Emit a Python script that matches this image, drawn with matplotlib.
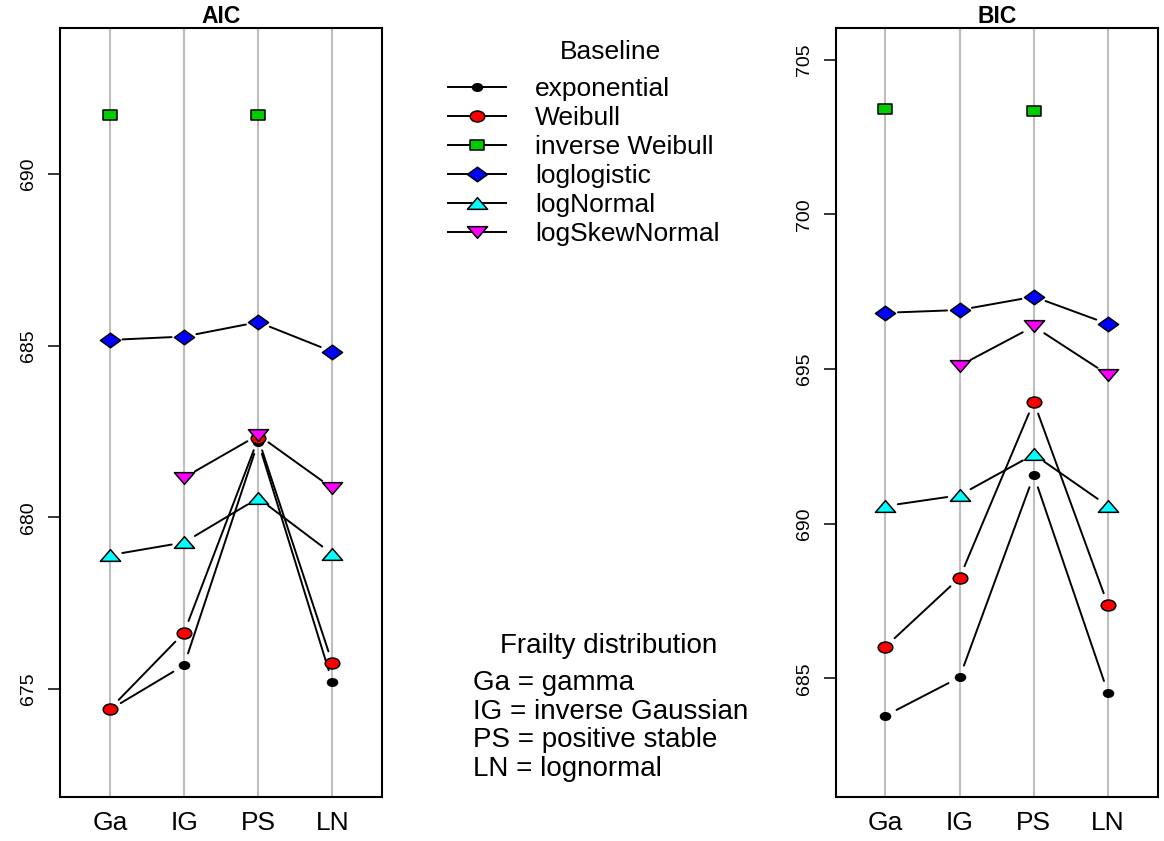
import numpy as np
import matplotlib
matplotlib.use('Agg')
import matplotlib.pyplot as plt
from matplotlib.patches import FancyArrowPatch
from matplotlib.lines import Line2D
from matplotlib.path import Path
from matplotlib.transforms import Affine2D, Bbox

plt.rcParams['font.family'] = ['Liberation Sans', 'DejaVu Sans']

# ---------------- data ----------------
frailty = ['Ga', 'IG', 'PS', 'LN']
baselines = ['exponential', 'Weibull', 'inverse Weibull', 'loglogistic',
             'logNormal', 'logSkewNormal']

aic_exponential   = [674.40, 675.69, 682.20, 675.20]
aic_weibull       = [674.42, 676.64, 682.30, 675.75]
aic_invweibull    = [691.73, np.nan, 691.73, np.nan]
aic_loglogistic   = [685.17, 685.27, 685.69, 684.83]
aic_lognormal     = [678.90, 679.27, 680.56, 678.93]
aic_logskewnormal = [np.nan, 681.16, 682.40, 680.85]

bic_exponential   = [683.79, 685.03, 691.56, 684.53]
bic_weibull       = [686.02, 688.25, 693.94, 687.37]
bic_invweibull    = [703.40, np.nan, 703.36, np.nan]
bic_loglogistic   = [696.82, 696.91, 697.34, 696.46]
bic_lognormal     = [690.57, 690.92, 692.24, 690.57]
bic_logskewnormal = [np.nan, 695.11, 696.38, 694.82]

aic_ticks = [675, 680, 685, 690]
bic_ticks = [685, 690, 695, 700, 705]

frailty_notes = ['Ga = gamma', 'IG = inverse Gaussian',
                 'PS = positive stable', 'LN = lognormal']

# ---------------- styles ----------------
ellipse = Path.unit_circle().transformed(Affine2D().scale(1.0, 0.75))
rect = Path([(-1, -0.68), (1, -0.68), (1, 0.68), (-1, 0.68), (-1, -0.68)],
            closed=True)
diamond = Path([(-1, 0), (0, 0.72), (1, 0), (0, -0.72), (-1, 0)], closed=True)
tri_up = Path([(-1, -0.58), (1, -0.58), (0, 0.58), (-1, -0.58)], closed=True)
tri_dn = Path([(-1, 0.58), (1, 0.58), (0, -0.58), (-1, 0.58)], closed=True)

styles = [
    dict(marker=ellipse, mfc='black', ms=7.2),
    dict(marker=ellipse, mfc='#FF0000', ms=10.5),
    dict(marker=rect, mfc='#00CD00', ms=10.0),
    dict(marker=diamond, mfc='#0000FF', ms=14.5),
    dict(marker=tri_up, mfc='#00FFFF', ms=14.5),
    dict(marker=tri_dn, mfc='#FF00FF', ms=14.5),
]

W, H = 1164, 841
fig = plt.figure(figsize=(W / 100, H / 100), dpi=100)


def px_axes(l, r, t, b):
    return fig.add_axes([l / W, 1 - b / H, (r - l) / W, (b - t) / H])


def panel(ax, series, ticks, ylim, title):
    x = np.arange(1, len(frailty) + 1)
    ax.set_xlim(0.33, 4.67)
    ax.set_ylim(*ylim)
    ax.set_xticks(x)
    ax.set_xticklabels(frailty, fontsize=19)
    ax.set_yticks(ticks)
    ax.set_yticklabels([str(t) for t in ticks], fontsize=14, rotation=90,
                       va='center')
    ax.tick_params(axis='x', length=0, pad=10.5)
    ax.tick_params(axis='y', length=8.6, width=1.1, pad=8)
    ax.grid(axis='x', color='#BEBEBE', lw=1.5)
    ax.set_axisbelow(True)
    for s in ax.spines.values():
        s.set_linewidth(1.5)
    ax.set_title(title, fontsize=16.5, fontweight='bold', pad=3.5)
    for k, (vals, st) in enumerate(zip(series, styles)):
        vals = np.asarray(vals, dtype=float)
        z = 3 + 2 * k
        for i in range(len(vals) - 1):
            if np.isnan(vals[i]) or np.isnan(vals[i + 1]):
                continue
            ax.add_patch(FancyArrowPatch((x[i], vals[i]), (x[i + 1], vals[i + 1]),
                                         arrowstyle='-', shrinkA=9, shrinkB=9,
                                         lw=1.4, color='black', zorder=z))
        ax.plot(x, vals, ls='none', marker=st['marker'], ms=st['ms'],
                mfc=st['mfc'], mec='black', mew=1.1, zorder=z + 1)


ax1 = px_axes(60.3, 382, 27.7, 796.7)
panel(ax1, [aic_exponential, aic_weibull, aic_invweibull, aic_loglogistic,
            aic_lognormal, aic_logskewnormal], aic_ticks, (671.86, 694.27), 'AIC')

ax2 = px_axes(835.7, 1157.7, 27.7, 796.7)
panel(ax2, [bic_exponential, bic_weibull, bic_invweibull, bic_loglogistic,
            bic_lognormal, bic_logskewnormal], bic_ticks, (681.17, 706.04), 'BIC')

# ---------------- legend (middle region) ----------------
fig.text(610 / W, 1 - 52 / H, 'Baseline', ha='center', va='center',
         fontsize=19)
handles = [Line2D([], [], color='black', lw=1.4, marker=st['marker'],
                  ms=st['ms'], mfc=st['mfc'], mec='black', mew=1.1)
           for st in styles]
leg = fig.legend(handles, baselines, loc='upper left',
                 bbox_to_anchor=(448 / W, 1 - 77 / H), frameon=False,
                 fontsize=19, handlelength=2.2,
                 handletextpad=1.1, labelspacing=0.19, borderpad=0,
                 borderaxespad=0, numpoints=1)

clip = Bbox.from_extents(0, 0, 772, H)
fig.text(609 / W, 1 - 653 / H, 'Frailty distribution', ha='center',
         va='baseline', fontsize=20)
for i, note in enumerate(frailty_notes):
    t = fig.text(473 / W, 1 - (690 + 28.7 * i) / H, note, ha='left',
                 va='baseline', fontsize=20)
    t.set_clip_box(clip)
    t.set_clip_on(True)

fig.savefig('out.png', dpi=100)
